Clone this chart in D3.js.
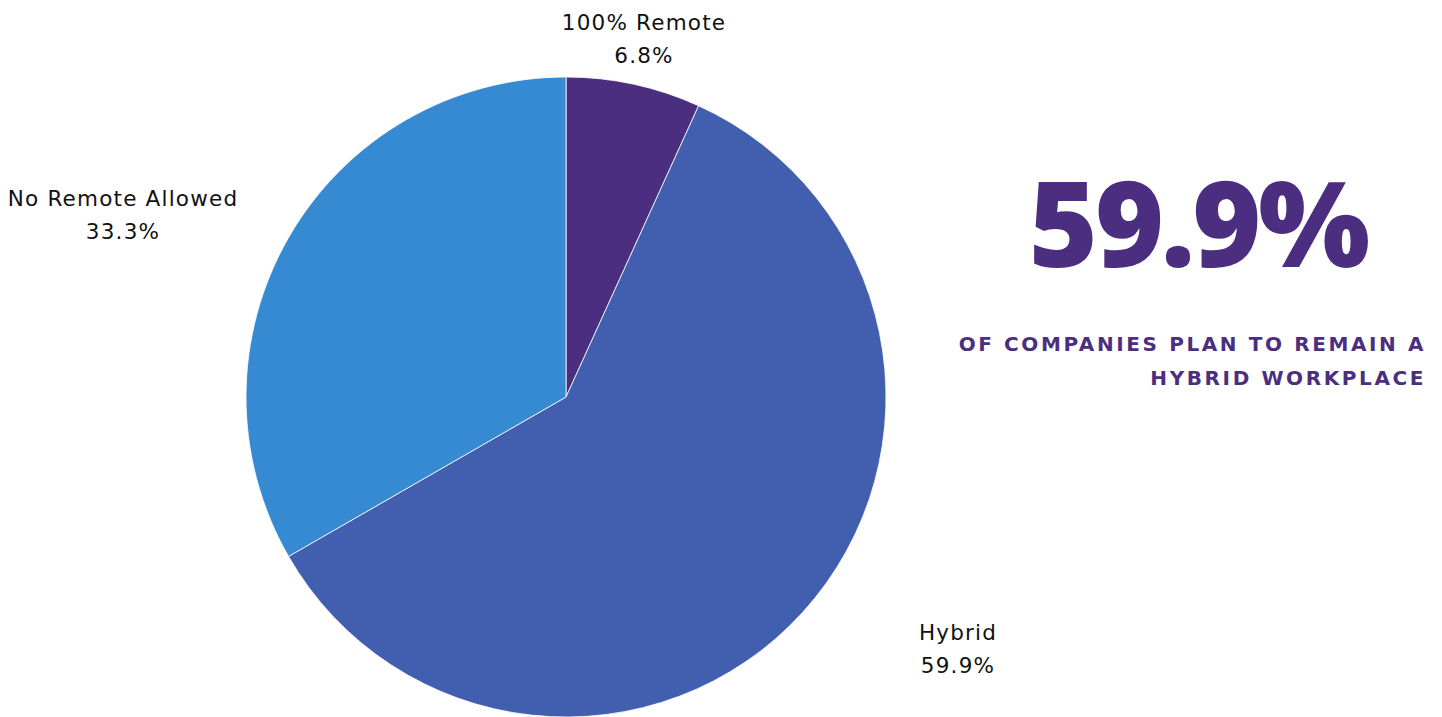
<!DOCTYPE html>
<html>
<head>
<meta charset="utf-8">
<script src="https://cdn.jsdelivr.net/npm/d3@7"></script>
<style>
  html, body { margin: 0; padding: 0; background: #ffffff; }
  svg { display: block; }
</style>
</head>
<body>
<svg id="chart" width="1442" height="717"></svg>
<script>
// Workplace policy shares
const categories = ["100% Remote", "Hybrid", "No Remote Allowed"];
const shares = [6.8, 59.9, 33.3];
const sliceColors = ["#4b2e7f", "#425eae", "#368ad2"];

// Label offsets from the pie centre (px), one per category
const labelOffsets = [[78, -358], [392, 252], [-443, -182]];

const headline = "59.9%";
const subtitleLines = ["OF COMPANIES PLAN TO REMAIN A", "HYBRID WORKPLACE"];

const svg = d3.select("#chart");
const cx = 566, cy = 397, radius = 320;
const labelFont = "'DejaVu Sans', 'Open Sans', sans-serif";

const data = categories.map((c, i) => ({ name: c, value: shares[i], color: sliceColors[i], off: labelOffsets[i] }));

const pie = d3.pie().value(d => d.value).sort(null);
const arc = d3.arc().innerRadius(0).outerRadius(radius);

const g = svg.append("g").attr("transform", `translate(${cx},${cy})`);

g.selectAll("path.slice")
  .data(pie(data))
  .join("path")
  .attr("class", "slice")
  .attr("d", arc)
  .attr("fill", d => d.data.color)
  .attr("stroke", "#ffffff")
  .attr("stroke-width", 0.8);

const labels = g.selectAll("text.lbl")
  .data(pie(data))
  .join("text")
  .attr("class", "lbl")
  .attr("text-anchor", "middle")
  .attr("font-family", labelFont)
  .attr("font-size", 21.5)
  .attr("letter-spacing", 1.2)
  .attr("fill", "#111111")
  .attr("transform", d => `translate(${d.data.off[0]},${d.data.off[1]})`);

labels.append("tspan").attr("x", 0).attr("y", -9).text(d => d.data.name);
labels.append("tspan").attr("x", 0).attr("y", 24).text(d => d3.format(".1f")(d.data.value) + "%");

// Headline figure
svg.append("text")
  .attr("x", 1198)
  .attr("y", 267)
  .attr("text-anchor", "middle")
  .attr("font-family", "'Open Sans', Lato, sans-serif")
  .attr("font-weight", 800)
  .attr("font-size", 118)
  .attr("letter-spacing", -3)
  .attr("fill", "#4b2e7f")
  .text(headline);

// Subtitle, right aligned
svg.append("g").selectAll("text")
  .data(subtitleLines)
  .join("text")
  .attr("x", 1426)
  .attr("y", (d, i) => 351 + i * 34)
  .attr("text-anchor", "end")
  .attr("font-family", "'DejaVu Sans', sans-serif")
  .attr("font-weight", 700)
  .attr("font-size", 20)
  .attr("letter-spacing", 2.6)
  .attr("fill", "#4b2e7f")
  .text(d => d);
</script>
</body>
</html>
